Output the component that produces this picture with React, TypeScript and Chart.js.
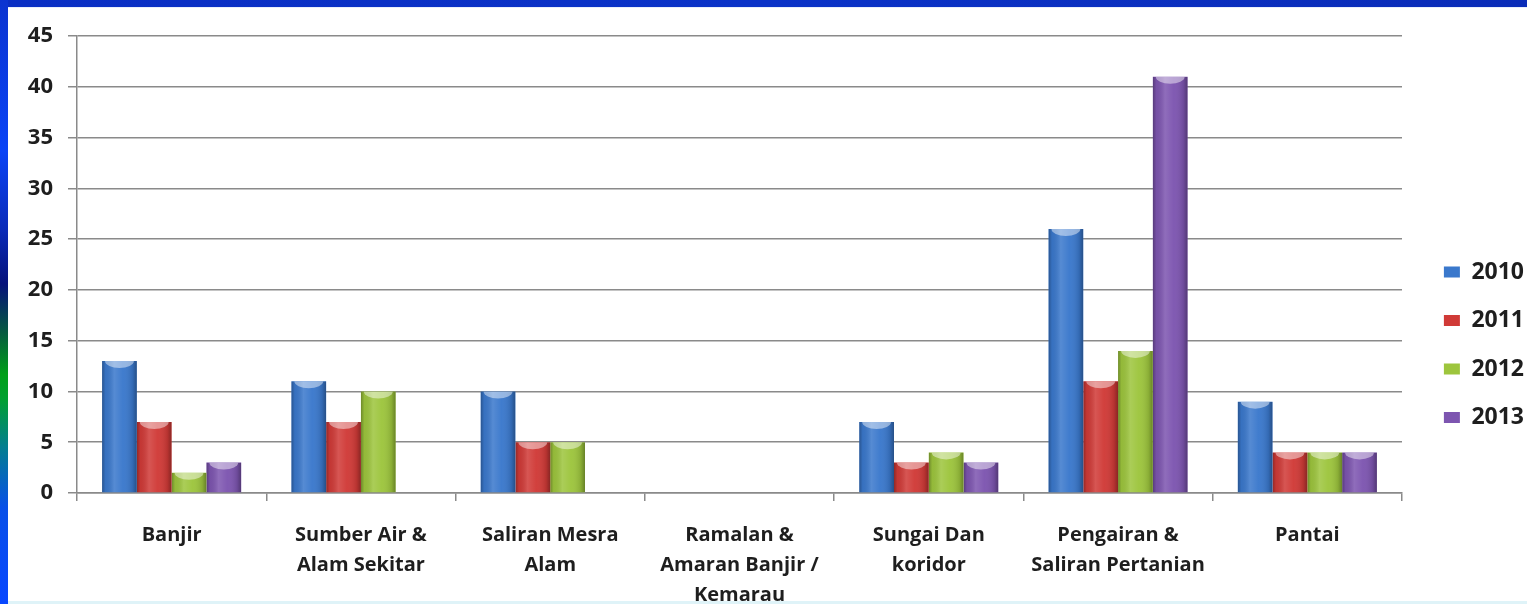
import React, { useEffect, useRef } from "react";
import { Chart, registerables } from "chart.js";

Chart.register(...registerables);

const categories: string[][] = [
  ["Banjir"],
  ["Sumber Air &", "Alam Sekitar"],
  ["Saliran Mesra", "Alam"],
  ["Ramalan &", "Amaran Banjir /", "Kemarau"],
  ["Sungai Dan", "koridor"],
  ["Pengairan &", "Saliran Pertanian"],
  ["Pantai"],
];

const seriesNames = ["2010", "2011", "2012", "2013"];
const values2010 = [13, 11, 10, 0, 7, 26, 9];
const values2011 = [7, 7, 5, 0, 3, 11, 4];
const values2012 = [2, 10, 5, 0, 4, 14, 4];
const values2013 = [3, 0, 0, 0, 3, 41, 4];
const seriesColors = ["#3A78CC", "#D03A37", "#9DC53D", "#7D55B0"];

const yMin = 0;
const yMax = 45;
const yStep = 5;

const FONT = "'Open Sans', 'Noto Sans', sans-serif";

const barShade = {
  id: "barShade",
  afterDatasetsDraw(chart: any) {
    const ctx = chart.ctx;
    chart.data.datasets.forEach((_ds: any, di: number) => {
      const meta = chart.getDatasetMeta(di);
      if (meta.hidden) return;
      meta.data.forEach((el: any) => {
        const { x, y, base, width } = el.getProps(["x", "y", "base", "width"], true);
        const h = base - y;
        if (!(h > 0.5)) return;
        const left = x - width / 2;
        ctx.save();
        ctx.beginPath();
        ctx.rect(left, y, width, h);
        ctx.clip();
        const g = ctx.createLinearGradient(left, 0, left + width, 0);
        g.addColorStop(0, "rgba(0,0,0,0.30)");
        g.addColorStop(0.1, "rgba(0,0,0,0.06)");
        g.addColorStop(0.35, "rgba(255,255,255,0.14)");
        g.addColorStop(0.6, "rgba(255,255,255,0.03)");
        g.addColorStop(0.88, "rgba(0,0,0,0.12)");
        g.addColorStop(1, "rgba(0,0,0,0.34)");
        ctx.fillStyle = g;
        ctx.fillRect(left, y, width, h);
        ctx.beginPath();
        ctx.ellipse(x, y, width / 2 - 3, Math.min(7, h / 2), 0, 0, Math.PI);
        ctx.fillStyle = "rgba(255,255,255,0.45)";
        ctx.fill();
        ctx.restore();
      });
    });
  },
};

export default function App() {
  const ref = useRef<HTMLCanvasElement | null>(null);

  useEffect(() => {
    if (!ref.current) return;
    const allValues = [values2010, values2011, values2012, values2013];
    const chart = new Chart(ref.current, {
      type: "bar",
      data: {
        labels: categories,
        datasets: seriesNames.map((name, i) => ({
          label: name,
          data: allValues[i],
          backgroundColor: seriesColors[i],
          borderWidth: 0,
          categoryPercentage: 0.735,
          barPercentage: 1.0,
          yAxisID: "y",
        })),
      },
      plugins: [barShade],
      options: {
        responsive: false,
        animation: false,
        devicePixelRatio: 1,
        layout: { padding: { top: 25, left: 0, right: 0, bottom: 0 } },
        plugins: {
          tooltip: { enabled: false },
          legend: {
            position: "right",
            align: "center",
            fullSize: true,
            title: {
              display: true,
              text: " ",
              font: { size: 10 },
              padding: { top: 15.5, bottom: 0 },
            },
            labels: {
              boxWidth: 16,
              boxHeight: 11,
              padding: 25.5,
              color: "#1e1e1e",
              font: { family: FONT, size: 23, weight: "bold" },
            },
          },
        },
        scales: {
          x: {
            grid: {
              display: true,
              drawOnChartArea: false,
              drawTicks: true,
              tickLength: 8,
              color: "#8a8a8a",
              lineWidth: 1.5,
              offset: true,
            },
            border: { display: true, color: "#8a8a8a", width: 1.5 },
            ticks: {
              autoSkip: false,
              maxRotation: 0,
              minRotation: 0,
              padding: 19,
              color: "#1e1e1e",
              font: { family: FONT, size: 20, weight: "bold", lineHeight: 1.5 },
            },
          },
          y: {
            min: yMin,
            max: yMax,
            position: "left",
            afterFit: (s: any) => {
              s.width = 69;
            },
            grid: {
              color: "#8a8a8a",
              lineWidth: 1.5,
              tickLength: 9,
              drawTicks: true,
            },
            border: { display: true, color: "#8a8a8a", width: 1.5 },
            ticks: {
              stepSize: yStep,
              padding: 15,
              color: "#1e1e1e",
              font: { family: FONT, size: 22, weight: "bold" },
            },
          },
          yR: {
            type: "linear",
            position: "right",
            display: true,
            afterFit: (s: any) => {
              s.width = 16.4;
            },
            grid: { display: false, drawTicks: false },
            border: { display: false },
            ticks: { display: false },
          },
        },
      } as any,
    });
    return () => chart.destroy();
  }, []);

  return (
    <div
      style={{
        position: "fixed",
        left: 0,
        top: 0,
        width: 1527,
        height: 604,
        overflow: "hidden",
        background: "#ffffff",
      }}
    >
      <div
        style={{
          position: "absolute",
          left: 0,
          top: 0,
          width: 1527,
          height: 7,
          background: "linear-gradient(to right, #0a2fc4, #0b33c8 50%, #0a2cb8)",
        }}
      />
      <div
        style={{
          position: "absolute",
          left: 0,
          top: 0,
          width: 8,
          height: 604,
          background:
            "linear-gradient(to bottom, #0b34d0 0%, #0a44f6 25%, #0a2bb8 38%, #06127a 47%, #065a40 55%, #00a018 62%, #01a030 66%, #037e90 74%, #0850e8 84%, #0847ff 100%)",
        }}
      />
      <div
        style={{
          position: "absolute",
          left: 8,
          top: 7,
          width: 1519,
          height: 1,
          background: "#e8eefc",
        }}
      />
      <div
        style={{
          position: "absolute",
          left: 8,
          top: 601,
          width: 1519,
          height: 3,
          background: "#dff3f8",
        }}
      />
      <canvas
        ref={ref}
        width={1526}
        height={621}
        style={{ position: "absolute", left: 8, top: 8, width: 1526, height: 621 }}
      />
    </div>
  );
}
